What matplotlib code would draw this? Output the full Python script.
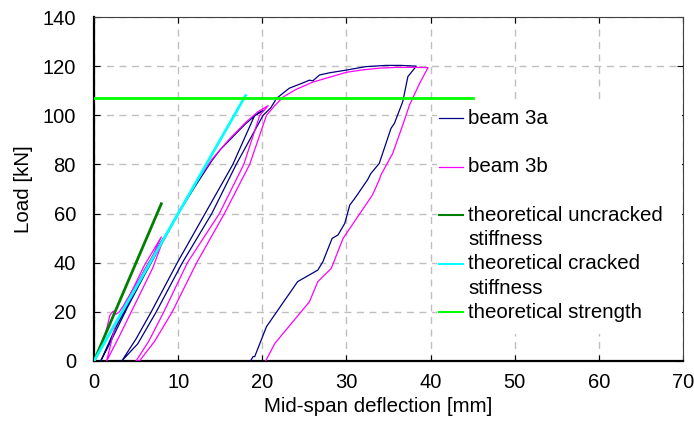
import matplotlib
matplotlib.use('Agg')
import matplotlib.pyplot as plt
from matplotlib.patches import Rectangle
from matplotlib.lines import Line2D

plt.rcParams['font.family'] = ['Liberation Sans', 'DejaVu Sans']

# beam 3a: envelope, 50 kN cycle, 102 kN cycle, final unloading
beam_3a_x = [0, 0.5, 1, 2, 3, 4, 5, 6, 7, 8, 8.3,
             6, 4, 2.5, 0.8,
             2, 4, 6, 8.5,
             10.2, 12, 14, 15, 16, 17, 18, 19, 19.8, 20.2,
             19.1, 16.5, 13.2, 9.9, 6.8, 5.0, 3.3,
             5.2, 7.4, 10.5, 14.0, 16.9, 18.5, 20.1, 21, 21.7, 23.2, 25.2, 25.6, 26.0,
             26.8, 28, 30, 32.3, 34.7, 36.5, 38.3,
             37.3, 36.7, 35.7, 35.3, 33.9, 32.9, 32.5, 31.0, 30.4, 29.8, 29.0, 28.3,
             27.2, 26.6, 24.2, 20.5, 19.1, 18.9, 18.6]
beam_3a_y = [0, 3, 6, 12, 18, 24, 30, 36, 42.5, 48.5, 50.3,
             37, 23, 13, 0,
             8, 22, 35, 50.5,
             61, 71, 81.5, 86, 89.5, 93, 96.5, 99.5, 101.5, 102,
             100, 80, 60, 40, 20, 9, 0,
             7, 20, 40, 60, 80, 90, 100, 103, 106.9, 111, 113.7, 114.3, 114.0,
             116.4, 117.3, 118.4, 119.8, 120.3, 120.3, 120.0,
             115.7, 105.6, 96.7, 94.7, 80.4, 76.3, 73.7, 66.2, 63.5, 56.0, 51.3, 49.9,
             40.4, 37.0, 32.3, 14.0, 1.8, 1.8, 0]

# beam 3b
beam_3b_x = [0, 0.5, 1, 1.5, 1.9, 2.3, 2.6, 3.0, 3.5, 4, 5, 6, 7, 8,
             6, 4, 2.5, 1.5,
             3, 5, 7, 8.3,
             10.2, 12, 14, 16, 18, 19.5, 20.7,
             19.7, 17.8, 14.9, 11.1, 8.3, 6.5, 5.0,
             5.4, 7.2, 9.3, 12.2, 15.5, 18.5, 20.5, 21.5, 22.5, 24, 26, 28, 30, 32, 34, 36, 38, 39.7,
             38.7, 37.5, 36.7, 35.5, 34.1, 33.9, 33.1, 29.6, 28.2, 26.6, 25.6, 21.5, 20.4]
beam_3b_y = [0, 4, 8, 13, 18.7, 20.3, 19, 20, 22.5, 25.5, 31, 37, 43, 50.5,
             39, 25, 14, 0,
             10, 24, 38, 50,
             61.5, 72, 82, 90, 97, 101.5, 103.9,
             100, 80, 60, 40, 20, 8, 0,
             0, 8, 20, 40, 60, 80, 100, 104, 107.5, 110.5, 113.5, 115.5, 117.5, 118.5, 119.2, 119.5, 119.5, 119.4,
             113, 104.2, 96.1, 84.5, 75.7, 73.7, 67.6, 49.9, 37.7, 32.3, 24.1, 7.2, 0]

uncracked_x = [0, 8]
uncracked_y = [0, 64]
cracked_x = [0, 18]
cracked_y = [0, 108]
strength_x = [0, 45]
strength_y = [107, 107]

labels = ['beam 3a', 'beam 3b', 'theoretical uncracked\nstiffness',
          'theoretical cracked\nstiffness', 'theoretical strength']
colors = ['#000080', '#FF00FF', '#008000', '#00FFFF', '#00FF00']
widths = [0.9, 0.9, 2, 2, 2]

fig = plt.figure(figsize=(6.94, 4.32), dpi=100)
ax = fig.add_axes([94 / 694, 1 - 361 / 432, (683 - 94) / 694, (361 - 17) / 432])

ax.plot(beam_3a_x, beam_3a_y, color=colors[0], lw=widths[0], zorder=3)
ax.plot(beam_3b_x, beam_3b_y, color=colors[1], lw=widths[1], zorder=3)
ax.plot(uncracked_x, uncracked_y, color=colors[2], lw=widths[2], zorder=4)
ax.plot(cracked_x, cracked_y, color=colors[3], lw=widths[3], zorder=4)
ax.plot(strength_x, strength_y, color=colors[4], lw=widths[4], zorder=4)

ax.set_xlim(0, 70)
ax.set_ylim(0, 140)
ax.set_xticks(range(0, 71, 10))
ax.set_yticks(range(0, 141, 20))
ax.grid(True, color='#BFBFBF', linestyle=(0, (5, 4)), lw=1)
ax.set_axisbelow(True)
ax.tick_params(direction='in', length=4, labelsize=14.5, top=True, right=True)
ax.tick_params(axis='y', pad=13)
ax.tick_params(axis='x', pad=9)
for s in ['left', 'bottom']:
    ax.spines[s].set_linewidth(1.6)
for s in ['top', 'right']:
    ax.spines[s].set_linewidth(0.8)
    ax.spines[s].set_color('#404040')
ax.set_xlabel('Mid-span deflection [mm]', fontsize=14.8)
ax.set_ylabel('Load [kN]', fontsize=14.8)
ax.xaxis.set_label_coords(0.483, -0.105)
ax.yaxis.set_label_coords(-0.103, 0.5)


def fx(px):
    return (px - 94) / (683 - 94)


def fy(py):
    return (361 - py) / (361 - 17)


# legend drawn by hand, rows spaced like the original
ax.add_patch(Rectangle((fx(437), fy(334)), fx(682) - fx(437), fy(100) - fy(334),
                       transform=ax.transAxes, facecolor='white', edgecolor='none', zorder=2))
rows = [0, 2, 4, 6, 8]
for lab, c, w, r in zip(labels, colors, widths, rows):
    y = fy(118 + r * 24.3)
    ax.add_line(Line2D([fx(439), fx(463)], [y, y], color=c, lw=min(w, 1.5),
                       transform=ax.transAxes, zorder=5))
    for k, part in enumerate(lab.split('\n')):
        ax.text(fx(468), fy(118 + (r + k) * 24.3), part, transform=ax.transAxes,
                fontsize=14.8, va='center', zorder=5)

fig.savefig('out.png', dpi=100)
